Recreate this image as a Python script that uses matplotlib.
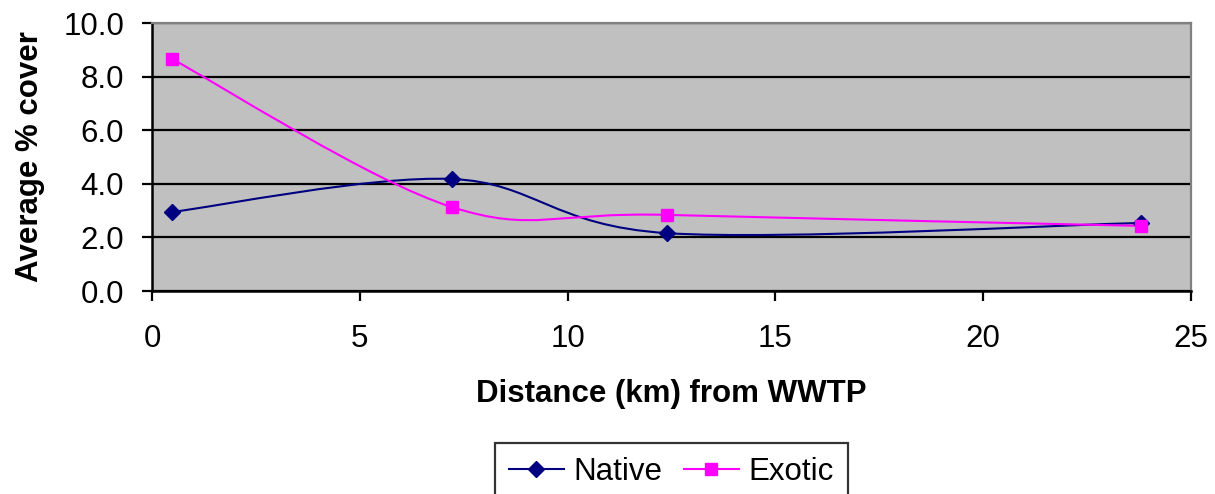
import numpy as np
import matplotlib
matplotlib.use('Agg')
from matplotlib import pyplot as plt
from matplotlib.path import Path
from matplotlib.patches import PathPatch
from matplotlib.lines import Line2D

plt.rcParams['font.family'] = ['Liberation Sans', 'DejaVu Sans']

distance = [0.48, 7.22, 12.39, 23.8]
native = [2.95, 4.18, 2.16, 2.54]
exotic = [8.66, 3.13, 2.84, 2.43]


def smooth_path(x, y):
    # Excel-style smoothed line: cubic Bezier through the points
    p = np.column_stack([x, y]).astype(float)
    ext = np.vstack([p[0], p, p[-1]])
    verts = [p[0]]
    codes = [Path.MOVETO]
    for i in range(len(p) - 1):
        p0, p1, p2, p3 = ext[i], ext[i + 1], ext[i + 2], ext[i + 3]
        c1 = p1 + (p2 - p0) / 6.0
        c2 = p2 - (p3 - p1) / 6.0
        verts += [c1, c2, p2]
        codes += [Path.CURVE4] * 3
    return Path(verts, codes)


fig = plt.figure(figsize=(12.15, 4.94), dpi=100)
ax = fig.add_axes([0.1251, 0.4109, 0.8551, 0.5425])
ax.set_facecolor('#C0C0C0')

ax.add_patch(PathPatch(smooth_path(distance, native), fill=False,
                       edgecolor='#000080', lw=1.5, zorder=3))
ax.add_patch(PathPatch(smooth_path(distance, exotic), fill=False,
                       edgecolor='#FF00FF', lw=1.5, zorder=3))
ax.plot(distance, native, ls='none', marker='D', ms=8, color='#000080', zorder=4)
ax.plot(distance, exotic, ls='none', marker='s', ms=8, color='#FF00FF', zorder=4)

ax.set_xlim(0, 25)
ax.set_ylim(0, 10)
ax.set_xticks(np.arange(0, 26, 5))
ax.set_yticks(np.arange(0, 10.1, 2))
ax.set_yticklabels(['%.1f' % v for v in np.arange(0, 10.1, 2)])
ax.yaxis.grid(True, color='black', lw=1.6)
ax.set_axisbelow(True)
ax.tick_params(labelsize=22.5, length=7, width=1.6)
ax.tick_params(axis='x', pad=17)
ax.tick_params(axis='y', pad=13)

for s in ['left', 'bottom']:
    ax.spines[s].set_linewidth(1.8)
    ax.spines[s].set_color('black')
ax.spines['top'].set_color('#808080')
ax.spines['right'].set_color('#808080')
ax.spines['top'].set_linewidth(1.6)
ax.spines['right'].set_linewidth(1.6)

ax.set_xlabel('Distance (km) from WWTP', fontsize=22.5, fontweight='bold', labelpad=18)
ax.set_ylabel('Average % cover', fontsize=22.5, fontweight='bold', labelpad=13)

handles = [Line2D([], [], color='#000080', lw=1.5, marker='D', ms=8),
           Line2D([], [], color='#FF00FF', lw=1.5, marker='s', ms=8)]
leg = fig.legend(handles, ['Native', 'Exotic'], loc='center',
                 bbox_to_anchor=(0.5525, 0.0445), ncol=2, fontsize=22.5,
                 frameon=True, fancybox=False, edgecolor='black',
                 handlelength=1.75, handletextpad=0.3, columnspacing=0.7,
                 borderpad=0.45, borderaxespad=0, numpoints=1)
leg.get_frame().set_linewidth(1.6)

fig.savefig('out.png', dpi=100)
